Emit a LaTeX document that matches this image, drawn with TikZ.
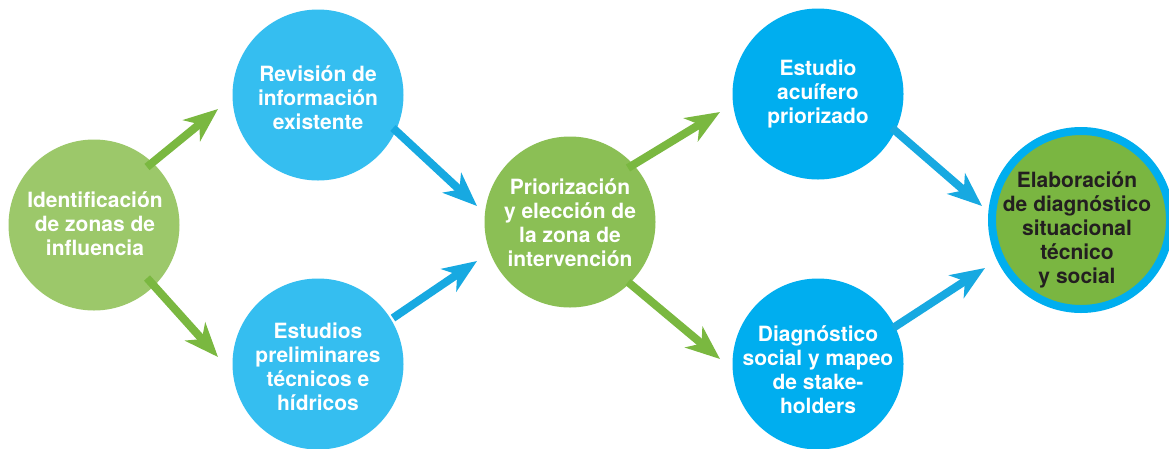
\documentclass[tikz,border=0pt]{standalone}
\usepackage{fontspec}
\setmainfont{TeX Gyre Heros}
\usetikzlibrary{arrows.meta}
\definecolor{gA}{HTML}{9CC86A}
\definecolor{gB}{HTML}{8BBF55}
\definecolor{gC}{HTML}{7AB641}
\definecolor{gArr}{HTML}{7AB840}
\definecolor{bA}{HTML}{35BEF0}
\definecolor{bB}{HTML}{00AEEF}
\definecolor{bArr}{HTML}{17A9E1}
\definecolor{dark}{HTML}{231F20}
\tikzset{
  disc/.style={circle, inner sep=0pt, minimum size=171pt, draw=none},
  lbl/.style={align=center, text=white, font=\fontsize{21}{24}\selectfont\bfseries, inner sep=0pt},
  garrow/.style={draw=gArr, line width=8pt, -{Stealth[length=34pt,width=27pt,inset=10pt]}},
  barrow/.style={draw=bArr, line width=8pt, -{Stealth[length=34pt,width=27pt,inset=10pt]}}
}
\begin{document}
\begin{tikzpicture}[x=1pt,y=-1pt]
\useasboundingbox[fill=white] (0,0) rectangle (1169,448);
% circles
\node[disc, fill=gA] (c1) at (94,225) {};
\node[disc, fill=bA] (c2) at (318,95) {};
\node[disc, fill=bA] (c3) at (318,364) {};
\node[disc, fill=gB] (c4) at (570,222) {};
\node[disc, fill=bB] (c5) at (818,94) {};
\node[disc, fill=bB] (c6) at (818,364) {};
\node[circle, inner sep=0pt, minimum size=178pt, fill=gC, draw=bB, line width=8pt] (c7) at (1081,220) {};
% labels
\node[lbl] (t1) at (95,224) {Identificación\\de zonas de\\influencia};
\node[lbl] (t2) at (318,98) {Revisión de\\información\\existente};
\node[lbl] (t3) at (318,367) {Estudios\\preliminares\\técnicos e\\hídricos};
\node[lbl] (t4) at (570,223) {Priorización\\y elección de\\la zona de\\intervención};
\node[lbl] (t5) at (818,94) {Estudio\\acuífero\\priorizado};
\node[lbl] (t6) at (818,370) {Diagnóstico\\social y mapeo\\de stake-\\holders};
\node[lbl, text=dark] (t7) at (1077,230) {Elaboración\\de diagnóstico\\situacional\\técnico\\y social};
% arrow end points
\coordinate (a1s) at (147,167); \coordinate (a1e) at (218,109);
\coordinate (a2s) at (147,278); \coordinate (a2e) at (218,357);
\coordinate (a3s) at (393,128); \coordinate (a3e) at (477,206);
\coordinate (a4s) at (393,318); \coordinate (a4e) at (477,261);
\coordinate (a5s) at (628,168); \coordinate (a5e) at (720,112);
\coordinate (a6s) at (628,282); \coordinate (a6e) at (720,359);
\coordinate (a7s) at (892,128); \coordinate (a7e) at (982,206);
\coordinate (a8s) at (893,328); \coordinate (a8e) at (985,268);
\draw[garrow] (a1s) -- (a1e);
\draw[garrow] (a2s) -- (a2e);
\draw[barrow] (a3s) -- (a3e);
\draw[barrow] (a4s) -- (a4e);
\draw[garrow] (a5s) -- (a5e);
\draw[garrow] (a6s) -- (a6e);
\draw[barrow] (a7s) -- (a7e);
\draw[barrow] (a8s) -- (a8e);
\end{tikzpicture}
\end{document}
